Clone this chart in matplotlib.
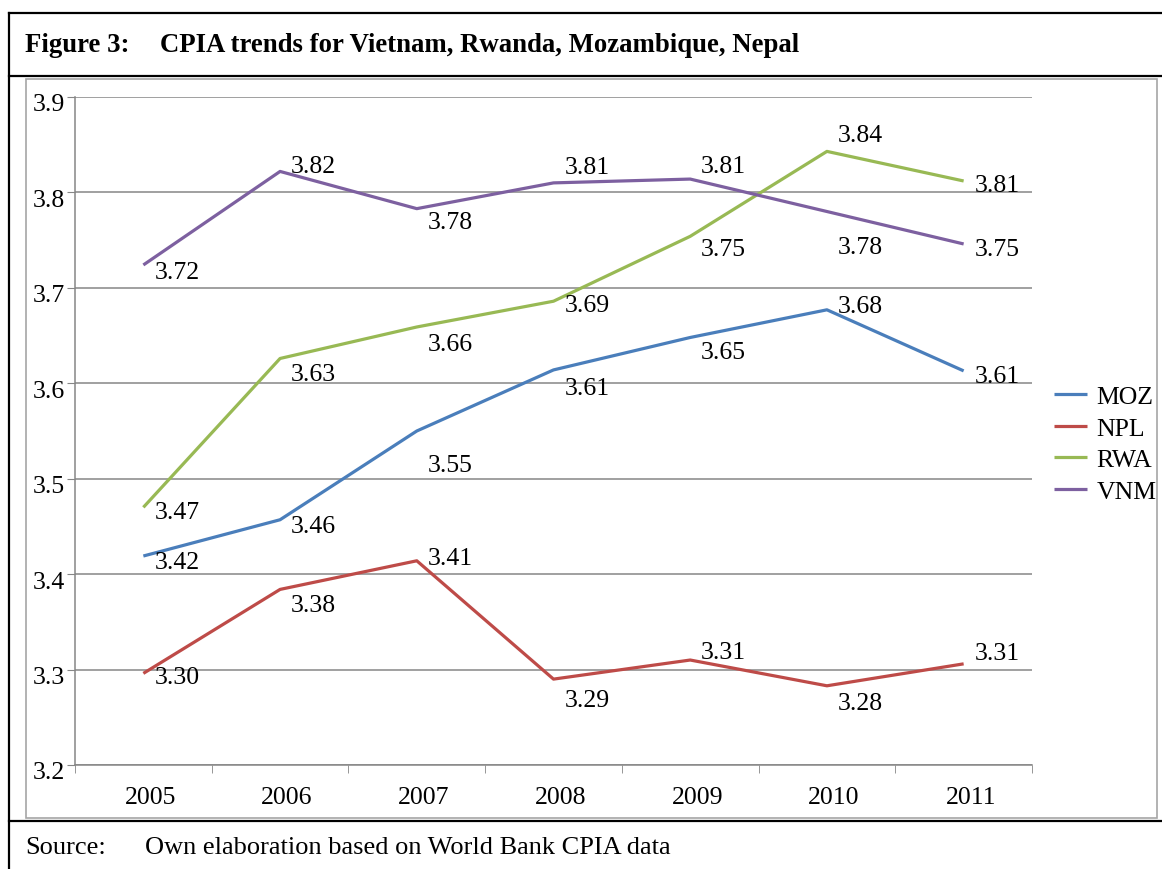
import matplotlib.pyplot as plt
import matplotlib.transforms as mtransforms
from matplotlib.lines import Line2D
from matplotlib.patches import Rectangle

plt.rcParams['font.family'] = ['Liberation Serif', 'DejaVu Serif']

# data
years = ['2005', '2006', '2007', '2008', '2009', '2010', '2011']
moz = [3.419, 3.457, 3.550, 3.614, 3.648, 3.677, 3.613]
npl = [3.296, 3.384, 3.414, 3.290, 3.310, 3.283, 3.306]
rwa = [3.470, 3.626, 3.659, 3.686, 3.754, 3.843, 3.812]
vnm = [3.724, 3.822, 3.783, 3.810, 3.814, 3.780, 3.746]
series_names = ['MOZ', 'NPL', 'RWA', 'VNM']
colors = ['#4A7EBB', '#BE4B48', '#98B954', '#7D60A0']

# vertical label offsets in pixels (down is positive), as placed in the original
label_dy = {
    'MOZ': [6, 6, 34, 18, 15, -4, 5],
    'NPL': [4, 16, -3, 21, -8, 17, -11],
    'RWA': [5, 16, 17, 4, 13, -16, 4],
    'VNM': [7, -5, 13, -16, -13, 35, 5],
}

W, H = 1162, 870
fig = plt.figure(figsize=(W / 100, H / 100), dpi=100)

def fx(px):
    return px / W

def fy(py):
    return 1 - py / H

# frame lines of the figure box
black = dict(color='black', lw=1.6, transform=fig.transFigure)
fig.add_artist(Line2D([fx(9), 1], [fy(14), fy(14)], **black))
fig.add_artist(Line2D([fx(9), 1], [fy(77), fy(77)], **black))
fig.add_artist(Line2D([fx(9), 1], [fy(822), fy(822)], **black))
fig.add_artist(Line2D([fx(9), fx(9)], [fy(14), 0], **black))
fig.add_artist(Rectangle((fx(26), fy(819)), fx(1157) - fx(26), fy(80) - fy(819),
                         transform=fig.transFigure, fill=False, ec='#A6A6A6', lw=1.2))

fig.text(fx(25), fy(46), 'Figure 3:', fontsize=19.3, fontweight='bold', va='center')
fig.text(fx(160), fy(46), 'CPIA trends for Vietnam, Rwanda, Mozambique, Nepal',
         fontsize=19.3, fontweight='bold', va='center')
fig.text(fx(25), fy(848), 'Source:', fontsize=19, va='center')
fig.text(fx(145), fy(848), 'Own elaboration based on World Bank CPIA data',
         fontsize=19, va='center')

ax = fig.add_axes([fx(75), fy(766), fx(1032) - fx(75), fy(98) - fy(766)])
x = list(range(len(years)))
for name, vals, c in zip(series_names, [moz, npl, rwa, vnm], colors):
    ax.plot(x, vals, color=c, lw=2.3, label=name, solid_capstyle='butt')
    for xi, v, dy in zip(x, vals, label_dy[name]):
        ax.annotate('%.2f' % v, (xi, v), xytext=(11, -dy), textcoords='offset pixels',
                    ha='left', va='center', fontsize=18.5)

ax.set_xlim(-0.5, len(years) - 0.5)
ax.set_ylim(3.2, 3.9)
ax.set_yticks([3.2, 3.3, 3.4, 3.5, 3.6, 3.7, 3.8, 3.9])
ax.set_yticklabels(['3.2', '3.3', '3.4', '3.5', '3.6', '3.7', '3.8', '3.9'])
ax.set_xticks(x)
ax.set_xticklabels(years)
ax.set_xticks([i + 0.5 for i in range(-1, len(years))], minor=True)
ax.tick_params(axis='x', which='major', length=0, pad=15, labelsize=18.5)
ax.tick_params(axis='x', which='minor', length=6, color='#868686')
ax.tick_params(axis='y', length=6, color='#868686', pad=1, labelsize=18.5)
ax.grid(axis='y', color='#868686', lw=1.1)
ax.set_axisbelow(True)
for s in ['top', 'right']:
    ax.spines[s].set_visible(False)
for s in ['left', 'bottom']:
    ax.spines[s].set_color('#868686')
    ax.spines[s].set_linewidth(1.1)

# Excel draws the category labels a little right and the value labels a little low
for lab in ax.get_xticklabels():
    lab.set_transform(lab.get_transform() + mtransforms.ScaledTranslation(7 / 100, 0, fig.dpi_scale_trans))
for lab in ax.get_yticklabels():
    lab.set_transform(lab.get_transform() + mtransforms.ScaledTranslation(0, -5 / 100, fig.dpi_scale_trans))

ax.legend(loc='center left', bbox_to_anchor=(fx(1041), fy(445)), bbox_transform=fig.transFigure,
          frameon=False, fontsize=18.5, handlelength=1.3, handletextpad=0.35,
          labelspacing=0.34, borderpad=0)

fig.savefig('out.png', dpi=100)
